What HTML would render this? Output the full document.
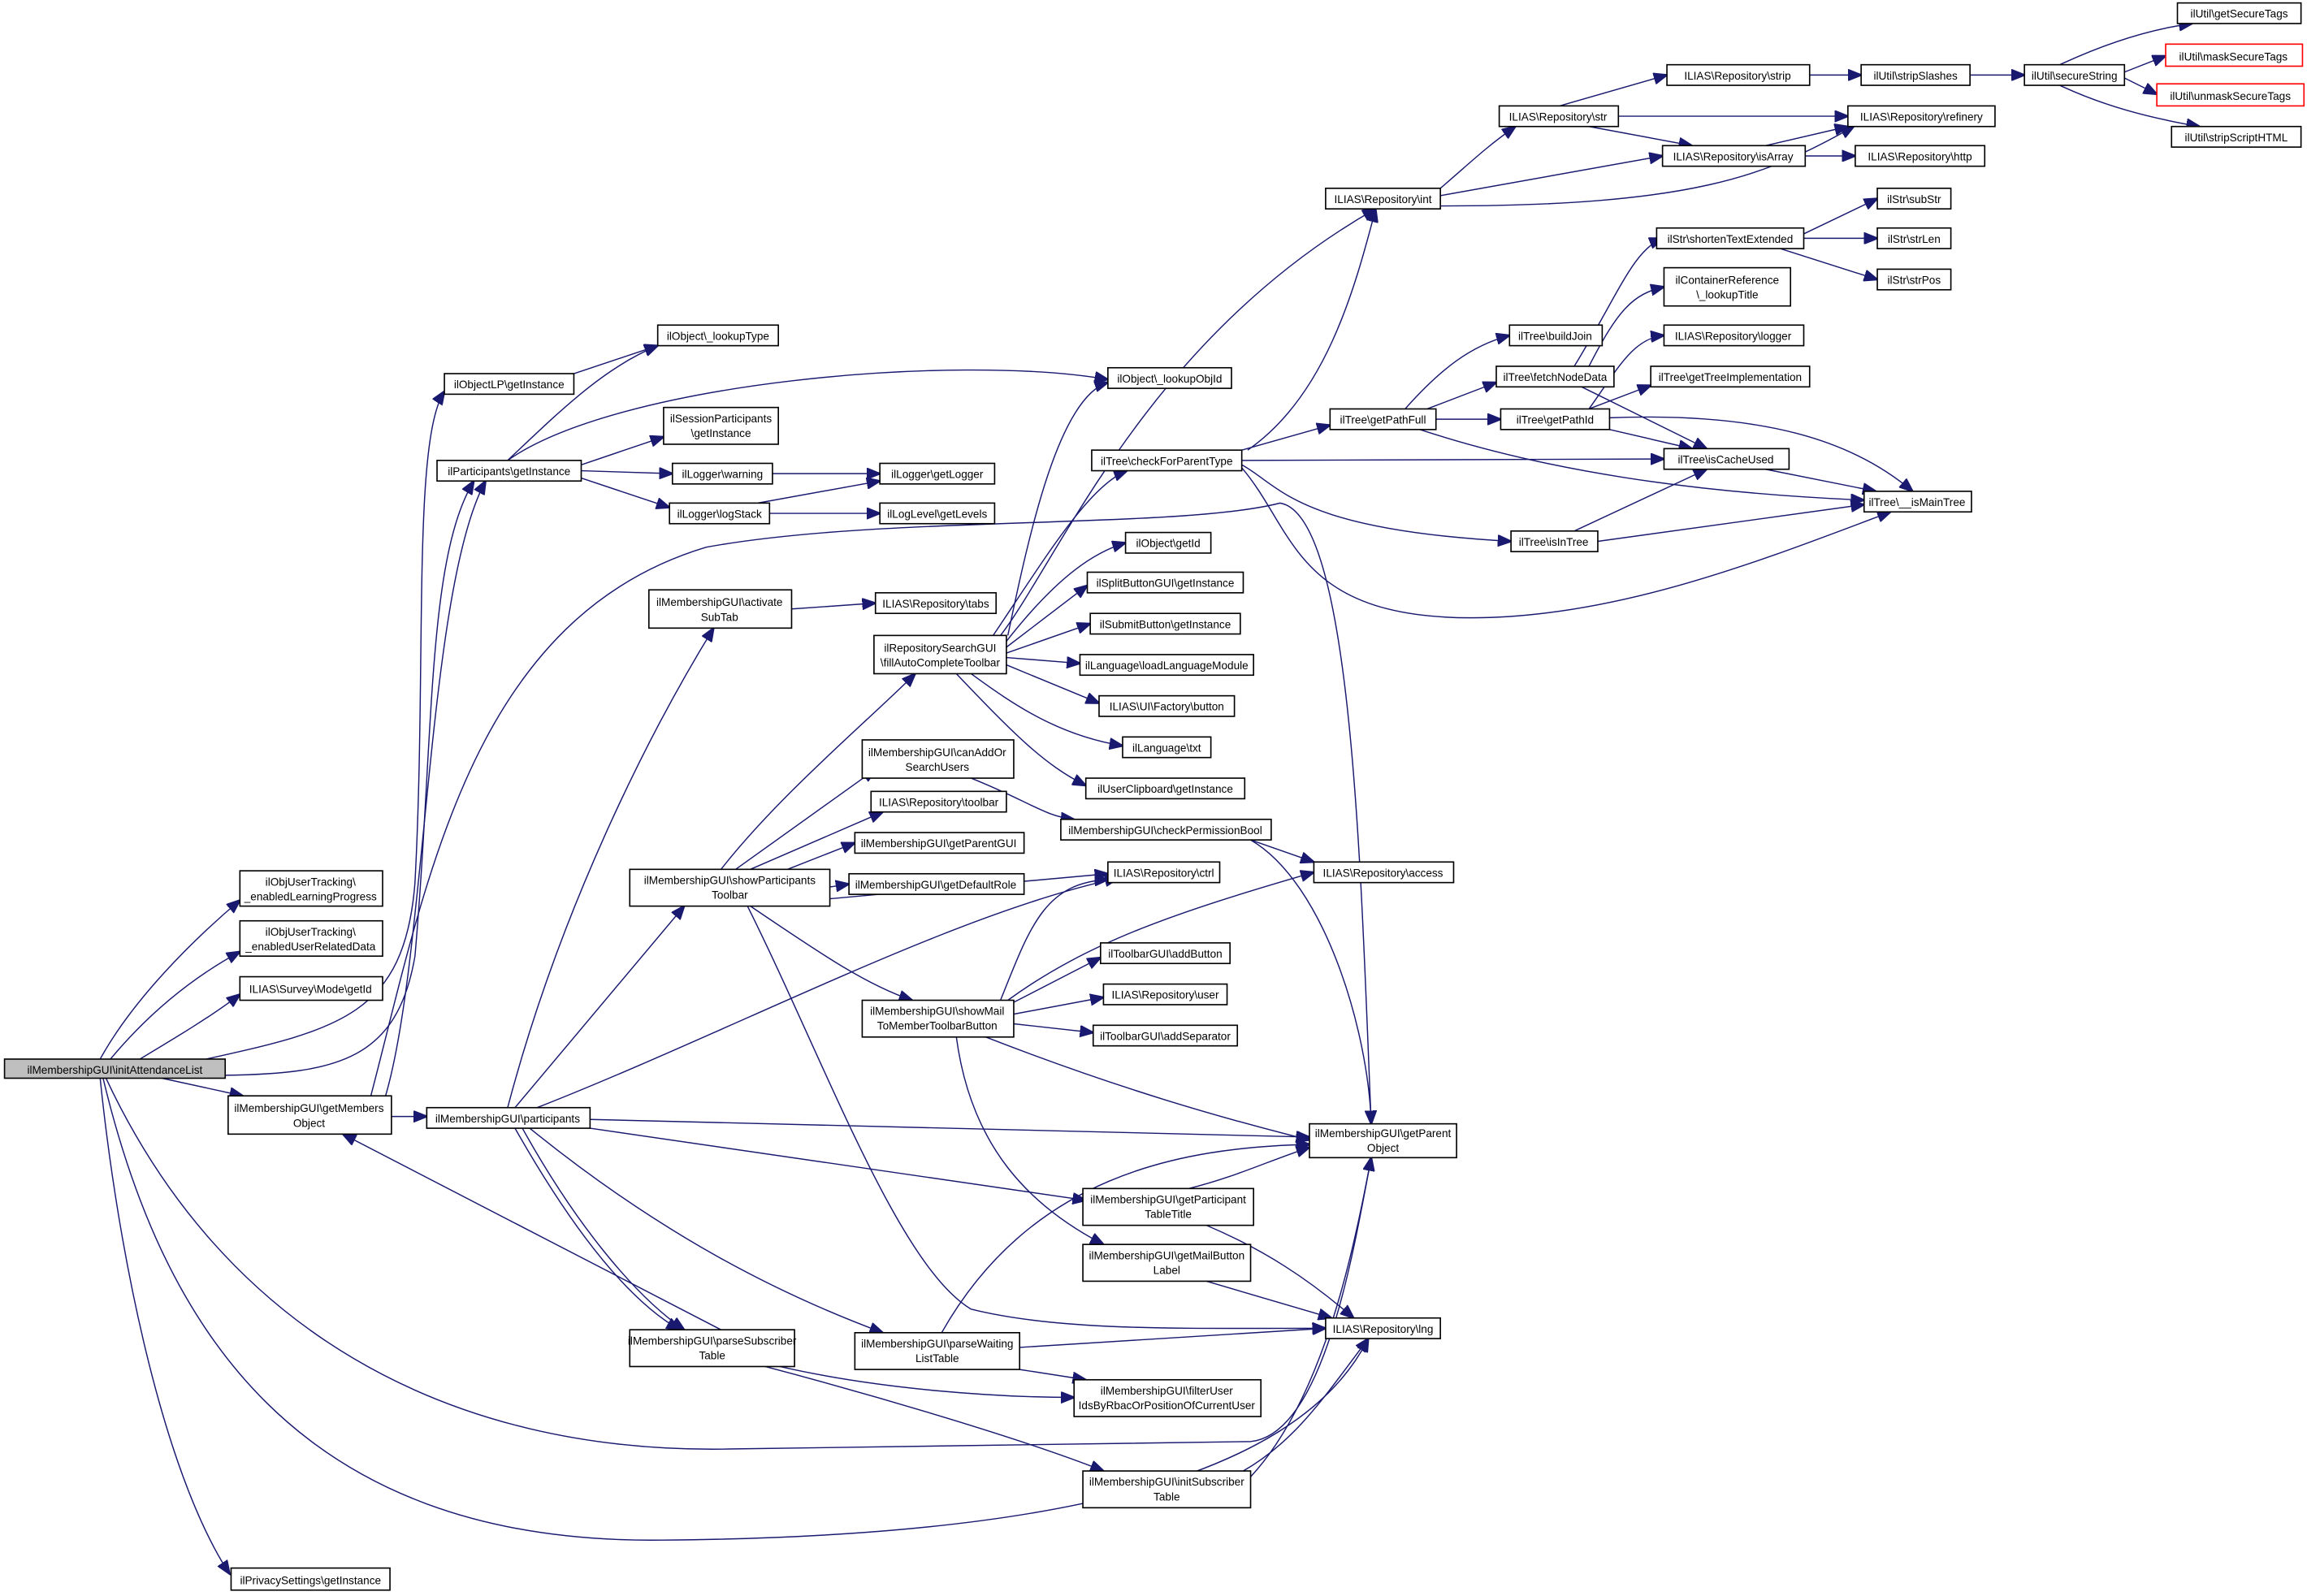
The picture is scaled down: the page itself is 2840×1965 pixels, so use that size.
<!DOCTYPE html>
<html><head><meta charset="utf-8"><style>
html,body{margin:0;padding:0;background:#fff;width:2840px;height:1965px;overflow:hidden}
svg{display:block}
text{font-family:"Liberation Sans",sans-serif;font-size:7.5px;fill:#000;text-anchor:middle}
.n rect{fill:#fff;stroke:#000;stroke-width:0.9}
.e path{fill:none;stroke:#191970;stroke-width:0.8;marker-end:url(#a)}
</style></head><body>
<svg width="2840" height="1965" viewBox="0 0 1568 1085" xmlns="http://www.w3.org/2000/svg">
<defs><marker id="a" markerUnits="userSpaceOnUse" markerWidth="10" markerHeight="8" refX="9" refY="4" orient="auto"><path d="M0,0 L10,4 L0,8 z" fill="#191970" stroke="#191970" stroke-width="0.5"/></marker></defs>
<g class="e">
<path d="M68 720 C90 680 130 640 163 612"/>
<path d="M75 720 C100 690 130 665 163 647"/>
<path d="M95 720 C120 705 145 690 163 676"/>
<path d="M140 720 C230 700 275 690 282 600 C290 450 280 300 302 266"/>
<path d="M153 731 C230 730 270 720 282 650 C295 500 290 380 322 327"/>
<path d="M110 733 L165 745"/>
<path d="M68 733 C80 850 110 1000 156 1070"/>
<path d="M70 733 C110 900 200 1050 450 1047 C700 1045 880 1010 930 910"/>
<path d="M72 733 C150 900 300 990 500 985 L850 980 C900 975 920 850 932 787"/>
<path d="M266 759 L290 759"/>
<path d="M262 745 C290 650 290 400 330 327"/>
<path d="M252 745 C290 600 320 420 480 372 C600 350 800 360 870 342 C920 350 925 600 932 764"/>
<path d="M390 254 L447 235"/>
<path d="M345 313 C380 280 410 250 447 235"/>
<path d="M345 313 C420 260 650 240 753 258"/>
<path d="M395 316 L451 297"/>
<path d="M395 320 L457 322"/>
<path d="M395 325 L455 345"/>
<path d="M525 322 L598 322"/>
<path d="M515 342 L598 327"/>
<path d="M523 349 L598 349"/>
<path d="M345 753 C380 620 440 500 485 427"/>
<path d="M350 753 L465 616"/>
<path d="M365 753 C500 700 650 620 760 597"/>
<path d="M401 761 L890 773"/>
<path d="M401 767 L738 816"/>
<path d="M350 767 C380 820 420 880 462 904"/>
<path d="M355 767 C390 830 430 880 465 904"/>
<path d="M360 767 C450 840 530 880 600 906"/>
<path d="M490 904 L233 771"/>
<path d="M538 414 L595 410"/>
<path d="M490 591 C530 540 590 490 622 458"/>
<path d="M500 591 L595 523"/>
<path d="M510 591 L600 552"/>
<path d="M520 597 L581 573"/>
<path d="M564 603 L577 601"/>
<path d="M564 611 L753 594"/>
<path d="M510 616 C560 650 590 670 620 680"/>
<path d="M508 616 C560 720 610 860 660 890 C720 905 800 903 901 903"/>
<path d="M680 432 C720 380 780 230 935 142"/>
<path d="M685 432 C700 360 720 270 753 260"/>
<path d="M675 432 C710 380 740 330 766 320"/>
<path d="M684 436 C720 390 745 375 765 369"/>
<path d="M684 440 L739 398"/>
<path d="M684 444 L741 424"/>
<path d="M684 447 L734 451"/>
<path d="M684 452 L747 478"/>
<path d="M660 458 C690 480 720 500 763 507"/>
<path d="M650 458 C690 500 710 520 738 534"/>
<path d="M660 529 C700 545 710 555 730 557"/>
<path d="M850 571 L893 586"/>
<path d="M850 571 C900 600 930 700 932 764"/>
<path d="M680 680 C700 630 710 600 753 598"/>
<path d="M685 680 C740 640 800 620 893 593"/>
<path d="M680 686 L748 651"/>
<path d="M686 690 L750 678"/>
<path d="M689 696 L743 702"/>
<path d="M670 705 C760 740 830 760 890 775"/>
<path d="M650 705 C660 780 700 820 750 846"/>
<path d="M808 808 C840 800 860 790 890 780"/>
<path d="M820 833 C860 850 890 870 920 896"/>
<path d="M820 871 L905 896"/>
<path d="M520 929 C600 950 700 980 750 1000"/>
<path d="M530 929 C600 945 680 950 730 950"/>
<path d="M640 906 C700 800 800 780 890 778"/>
<path d="M693 916 L901 903"/>
<path d="M693 931 L738 938"/>
<path d="M850 1004 C900 950 920 850 932 787"/>
<path d="M845 1000 C880 980 900 950 930 910"/>
<path d="M844 306 L904 289"/>
<path d="M844 313 L1131 312"/>
<path d="M844 316 C870 330 880 360 1027 368"/>
<path d="M844 318 C880 360 880 420 1000 420 C1100 420 1200 380 1285 348"/>
<path d="M848 306 C900 270 920 200 935 142"/>
<path d="M955 278 C980 250 1000 235 1026 228"/>
<path d="M970 278 L1017 260"/>
<path d="M976 285 L1020 285"/>
<path d="M965 292 C1050 320 1150 335 1267 340"/>
<path d="M1070 249 C1100 200 1110 170 1130 162"/>
<path d="M1080 249 C1100 210 1110 200 1131 195"/>
<path d="M1075 263 L1160 305"/>
<path d="M1080 278 C1100 250 1110 230 1131 228"/>
<path d="M1080 278 L1122 262"/>
<path d="M1094 292 L1150 305"/>
<path d="M1094 284 C1200 280 1260 300 1300 334"/>
<path d="M1070 361 L1160 319"/>
<path d="M1086 368 L1267 343"/>
<path d="M1200 319 L1275 334"/>
<path d="M1226 159 L1276 135"/>
<path d="M1226 162 L1276 162"/>
<path d="M1210 169 L1276 190"/>
<path d="M979 128 C1000 110 1010 100 1030 86"/>
<path d="M979 133 L1130 106"/>
<path d="M979 140 C1150 140 1200 120 1260 86"/>
<path d="M1060 72 L1133 51"/>
<path d="M1100 79 L1256 79"/>
<path d="M1080 86 L1150 99"/>
<path d="M1200 99 L1256 86"/>
<path d="M1227 106 L1261 106"/>
<path d="M1230 51 L1265 51"/>
<path d="M1339 51 L1376 51"/>
<path d="M1400 44 C1430 30 1460 20 1490 16"/>
<path d="M1444 49 L1472 38"/>
<path d="M1444 53 L1466 64"/>
<path d="M1400 58 C1430 72 1460 80 1495 86"/>
</g>
<g class="n">
<rect x="3" y="720" width="150" height="13" style="fill:#bfbfbf"/><text x="78" y="730">ilMembershipGUI\initAttendanceList</text>
<rect x="163" y="592" width="97" height="24"/><text x="211" y="602">ilObjUserTracking\</text><text x="211" y="612">_enabledLearningProgress</text>
<rect x="163" y="626" width="97" height="24"/><text x="211" y="636">ilObjUserTracking\</text><text x="211" y="646">_enabledUserRelatedData</text>
<rect x="163" y="664" width="97" height="16"/><text x="211" y="675">ILIAS\Survey\Mode\getId</text>
<rect x="157" y="1066" width="108" height="15"/><text x="211" y="1077">ilPrivacySettings\getInstance</text>
<rect x="155" y="745" width="111" height="26"/><text x="210" y="756">ilMembershipGUI\getMembers</text><text x="210" y="766">Object</text>
<rect x="290" y="753" width="111" height="14"/><text x="345" y="763">ilMembershipGUI\participants</text>
<rect x="302" y="254" width="88" height="14"/><text x="346" y="264">ilObjectLP\getInstance</text>
<rect x="297" y="313" width="98" height="14"/><text x="346" y="323">ilParticipants\getInstance</text>
<rect x="447" y="221" width="82" height="14"/><text x="488" y="231">ilObject\_lookupType</text>
<rect x="451" y="277" width="78" height="25"/><text x="490" y="287">ilSessionParticipants</text><text x="490" y="297">\getInstance</text>
<rect x="457" y="315" width="68" height="14"/><text x="491" y="325">ilLogger\warning</text>
<rect x="455" y="342" width="68" height="14"/><text x="489" y="352">ilLogger\logStack</text>
<rect x="598" y="315" width="78" height="14"/><text x="637" y="325">ilLogger\getLogger</text>
<rect x="598" y="342" width="78" height="14"/><text x="637" y="352">ilLogLevel\getLevels</text>
<rect x="753" y="250" width="84" height="14"/><text x="795" y="260">ilObject\_lookupObjId</text>
<rect x="441" y="401" width="97" height="26"/><text x="489" y="412">ilMembershipGUI\activate</text><text x="489" y="422">SubTab</text>
<rect x="595" y="403" width="82" height="14"/><text x="636" y="413">ILIAS\Repository\tabs</text>
<rect x="594" y="432" width="90" height="26"/><text x="639" y="443">ilRepositorySearchGUI</text><text x="639" y="453">\fillAutoCompleteToolbar</text>
<rect x="586" y="503" width="103" height="26"/><text x="637" y="514">ilMembershipGUI\canAddOr</text><text x="637" y="524">SearchUsers</text>
<rect x="592" y="538" width="92" height="14"/><text x="638" y="548">ILIAS\Repository\toolbar</text>
<rect x="581" y="566" width="115" height="14"/><text x="638" y="576">ilMembershipGUI\getParentGUI</text>
<rect x="577" y="594" width="119" height="14"/><text x="636" y="604">ilMembershipGUI\getDefaultRole</text>
<rect x="428" y="591" width="136" height="25"/><text x="496" y="601">ilMembershipGUI\showParticipants</text><text x="496" y="611">Toolbar</text>
<rect x="586" y="680" width="103" height="25"/><text x="637" y="690">ilMembershipGUI\showMail</text><text x="637" y="700">ToMemberToolbarButton</text>
<rect x="428" y="904" width="112" height="25"/><text x="484" y="914">ilMembershipGUI\parseSubscriber</text><text x="484" y="924">Table</text>
<rect x="581" y="906" width="112" height="25"/><text x="637" y="916">ilMembershipGUI\parseWaiting</text><text x="637" y="926">ListTable</text>
<rect x="736" y="808" width="116" height="25"/><text x="794" y="818">ilMembershipGUI\getParticipant</text><text x="794" y="828">TableTitle</text>
<rect x="736" y="846" width="114" height="25"/><text x="793" y="856">ilMembershipGUI\getMailButton</text><text x="793" y="866">Label</text>
<rect x="730" y="938" width="127" height="25"/><text x="793" y="948">ilMembershipGUI\filterUser</text><text x="793" y="958">IdsByRbacOrPositionOfCurrentUser</text>
<rect x="736" y="1000" width="114" height="25"/><text x="793" y="1010">ilMembershipGUI\initSubscriber</text><text x="793" y="1020">Table</text>
<rect x="890" y="764" width="100" height="23"/><text x="940" y="773">ilMembershipGUI\getParent</text><text x="940" y="783">Object</text>
<rect x="901" y="896" width="78" height="14"/><text x="940" y="906">ILIAS\Repository\lng</text>
<rect x="753" y="586" width="76" height="14"/><text x="791" y="596">ILIAS\Repository\ctrl</text>
<rect x="893" y="586" width="95" height="14"/><text x="940" y="596">ILIAS\Repository\access</text>
<rect x="721" y="557" width="143" height="14"/><text x="792" y="567">ilMembershipGUI\checkPermissionBool</text>
<rect x="742" y="306" width="102" height="14"/><text x="793" y="316">ilTree\checkForParentType</text>
<rect x="765" y="362" width="58" height="14"/><text x="794" y="372">ilObject\getId</text>
<rect x="739" y="389" width="106" height="14"/><text x="792" y="399">ilSplitButtonGUI\getInstance</text>
<rect x="741" y="417" width="102" height="14"/><text x="792" y="427">ilSubmitButton\getInstance</text>
<rect x="734" y="445" width="118" height="14"/><text x="793" y="455">ilLanguage\loadLanguageModule</text>
<rect x="747" y="473" width="92" height="14"/><text x="793" y="483">ILIAS\UI\Factory\button</text>
<rect x="763" y="501" width="60" height="14"/><text x="793" y="511">ilLanguage\txt</text>
<rect x="738" y="529" width="108" height="14"/><text x="792" y="539">ilUserClipboard\getInstance</text>
<rect x="748" y="641" width="88" height="14"/><text x="792" y="651">ilToolbarGUI\addButton</text>
<rect x="750" y="669" width="84" height="14"/><text x="792" y="679">ILIAS\Repository\user</text>
<rect x="743" y="697" width="98" height="14"/><text x="792" y="707">ilToolbarGUI\addSeparator</text>
<rect x="901" y="128" width="78" height="14"/><text x="940" y="138">ILIAS\Repository\int</text>
<rect x="904" y="278" width="72" height="14"/><text x="940" y="288">ilTree\getPathFull</text>
<rect x="1027" y="361" width="59" height="14"/><text x="1056" y="371">ilTree\isInTree</text>
<rect x="1026" y="221" width="63" height="14"/><text x="1057" y="231">ilTree\buildJoin</text>
<rect x="1017" y="249" width="80" height="14"/><text x="1057" y="259">ilTree\fetchNodeData</text>
<rect x="1020" y="278" width="74" height="14"/><text x="1057" y="288">ilTree\getPathId</text>
<rect x="1131" y="305" width="85" height="14"/><text x="1173" y="315">ilTree\isCacheUsed</text>
<rect x="1267" y="334" width="73" height="14"/><text x="1303" y="344">ilTree\__isMainTree</text>
<rect x="1019" y="72" width="81" height="14"/><text x="1059" y="82">ILIAS\Repository\str</text>
<rect x="1133" y="44" width="97" height="14"/><text x="1181" y="54">ILIAS\Repository\strip</text>
<rect x="1130" y="99" width="97" height="14"/><text x="1178" y="109">ILIAS\Repository\isArray</text>
<rect x="1256" y="72" width="100" height="14"/><text x="1306" y="82">ILIAS\Repository\refinery</text>
<rect x="1261" y="99" width="88" height="14"/><text x="1305" y="109">ILIAS\Repository\http</text>
<rect x="1265" y="44" width="74" height="14"/><text x="1302" y="54">ilUtil\stripSlashes</text>
<rect x="1376" y="44" width="68" height="14"/><text x="1410" y="54">ilUtil\secureString</text>
<rect x="1480" y="2" width="84" height="14"/><text x="1522" y="12">ilUtil\getSecureTags</text>
<rect x="1472" y="30" width="93" height="15" style="stroke:#f00"/><text x="1518" y="41">ilUtil\maskSecureTags</text>
<rect x="1466" y="57" width="100" height="15" style="stroke:#f00"/><text x="1516" y="68">ilUtil\unmaskSecureTags</text>
<rect x="1476" y="86" width="88" height="14"/><text x="1520" y="96">ilUtil\stripScriptHTML</text>
<rect x="1126" y="155" width="100" height="14"/><text x="1176" y="165">ilStr\shortenTextExtended</text>
<rect x="1131" y="182" width="86" height="26"/><text x="1174" y="193">ilContainerReference</text><text x="1174" y="203">\_lookupTitle</text>
<rect x="1131" y="221" width="95" height="14"/><text x="1178" y="231">ILIAS\Repository\logger</text>
<rect x="1122" y="249" width="108" height="14"/><text x="1176" y="259">ilTree\getTreeImplementation</text>
<rect x="1276" y="128" width="50" height="14"/><text x="1301" y="138">ilStr\subStr</text>
<rect x="1276" y="155" width="50" height="14"/><text x="1301" y="165">ilStr\strLen</text>
<rect x="1276" y="183" width="50" height="14"/><text x="1301" y="193">ilStr\strPos</text>
</g>
</svg>
</body></html>
